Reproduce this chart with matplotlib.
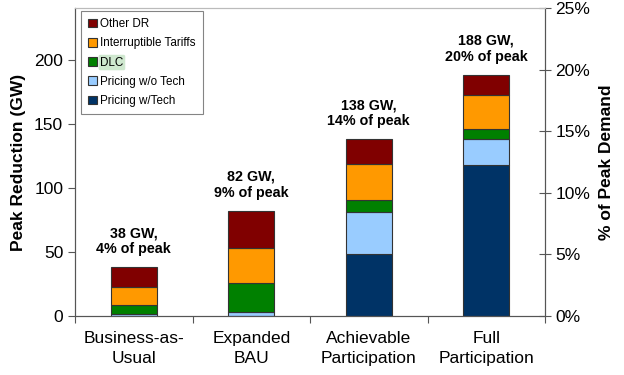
import numpy as np
import matplotlib
matplotlib.use("Agg")
import matplotlib.pyplot as plt
from matplotlib.ticker import FuncFormatter

plt.rcParams['font.family'] = ['Liberation Sans', 'DejaVu Sans']

scenarios = ["Business-as-\nUsual", "Expanded\nBAU", "Achievable\nParticipation", "Full\nParticipation"]
pricing_tech = [0.0, 0.0, 48.4, 118.0]
pricing_notech = [1.3, 3.1, 32.6, 20.0]
dlc = [7.0, 22.9, 9.9, 8.0]
interruptible = [14.1, 27.4, 27.6, 27.0]
other_dr = [15.6, 28.4, 19.5, 15.3]
total_gw = [38, 82, 138, 188]
pct_peak = [4, 9, 14, 20]

series = [
    ("Pricing w/Tech", pricing_tech, "#003366"),
    ("Pricing w/o Tech", pricing_notech, "#99CCFF"),
    ("DLC", dlc, "#008000"),
    ("Interruptible Tariffs", interruptible, "#FF9900"),
    ("Other DR", other_dr, "#800000"),
]

fig = plt.figure(figsize=(6.24, 3.75), dpi=100)
ax = fig.add_axes([0.1202, 0.1573, 0.7532, 0.8214])
x = np.arange(len(scenarios))
bottom = np.zeros(len(scenarios))
handles = []
for name, vals, col in series:
    vals = np.array(vals)
    b = ax.bar(x, vals, 0.39, bottom=bottom, color=col, edgecolor="#333333", linewidth=0.8, label=name)
    handles.append(b)
    bottom += vals

for i in range(len(scenarios)):
    ax.annotate(f"{total_gw[i]} GW,\n{pct_peak[i]}% of peak", (x[i], bottom[i]),
                xytext=(0, 8), textcoords="offset points", ha="center", va="bottom",
                fontsize=10.3, fontweight="bold", linespacing=1.2)

ax.set_xlim(-0.5, len(scenarios) - 0.5)
ax.set_ylim(0, 240.6)
ax.set_yticks([0, 50, 100, 150, 200])
ax.set_xticks(np.arange(-0.5, len(scenarios), 1.0))
ax.set_xticklabels([])
ax.set_xticks(x, minor=True)
ax.set_xticklabels(scenarios, minor=True, fontsize=12.5, linespacing=1.4)
ax.tick_params(axis="x", which="minor", length=0, pad=11)
ax.tick_params(axis="x", which="major", length=5, direction="out", color="#555555")
ax.tick_params(axis="y", labelsize=12.5, length=5, color="#555555")
ax.set_ylabel("Peak Reduction (GW)", fontsize=12.5, fontweight="bold", labelpad=6)

ax2 = ax.twinx()
ax2.set_ylim(0, 25)
ax2.set_yticks([0, 5, 10, 15, 20, 25])
ax2.yaxis.set_major_formatter(FuncFormatter(lambda v, p: f"{int(v)}%"))
ax2.tick_params(axis="y", labelsize=12.5, length=8, direction="inout", color="#555555")
ax2.set_ylabel("% of Peak Demand", fontsize=12.5, fontweight="bold", labelpad=6)

for a in (ax, ax2):
    a.spines["top"].set_color("#bbbbbb")
    a.spines["left"].set_color("#555555")
    a.spines["right"].set_color("#555555")
    a.spines["bottom"].set_color("#555555")

leg = ax.legend(handles[::-1], [s[0] for s in series][::-1], loc="upper left",
                bbox_to_anchor=(0.0128, 0.99), fontsize=8.4, frameon=True, fancybox=False,
                edgecolor="#666666", handlelength=0.75, handleheight=0.75,
                handletextpad=0.3, labelspacing=0.62, borderpad=0.6, borderaxespad=0)
leg.get_frame().set_linewidth(0.8)
for t in leg.get_texts():
    if t.get_text() == "DLC":
        t.set_bbox(dict(facecolor="#cfe8cf", edgecolor="none", pad=1.2, boxstyle="round,pad=0.15"))

fig.savefig("out.png", dpi=100)
